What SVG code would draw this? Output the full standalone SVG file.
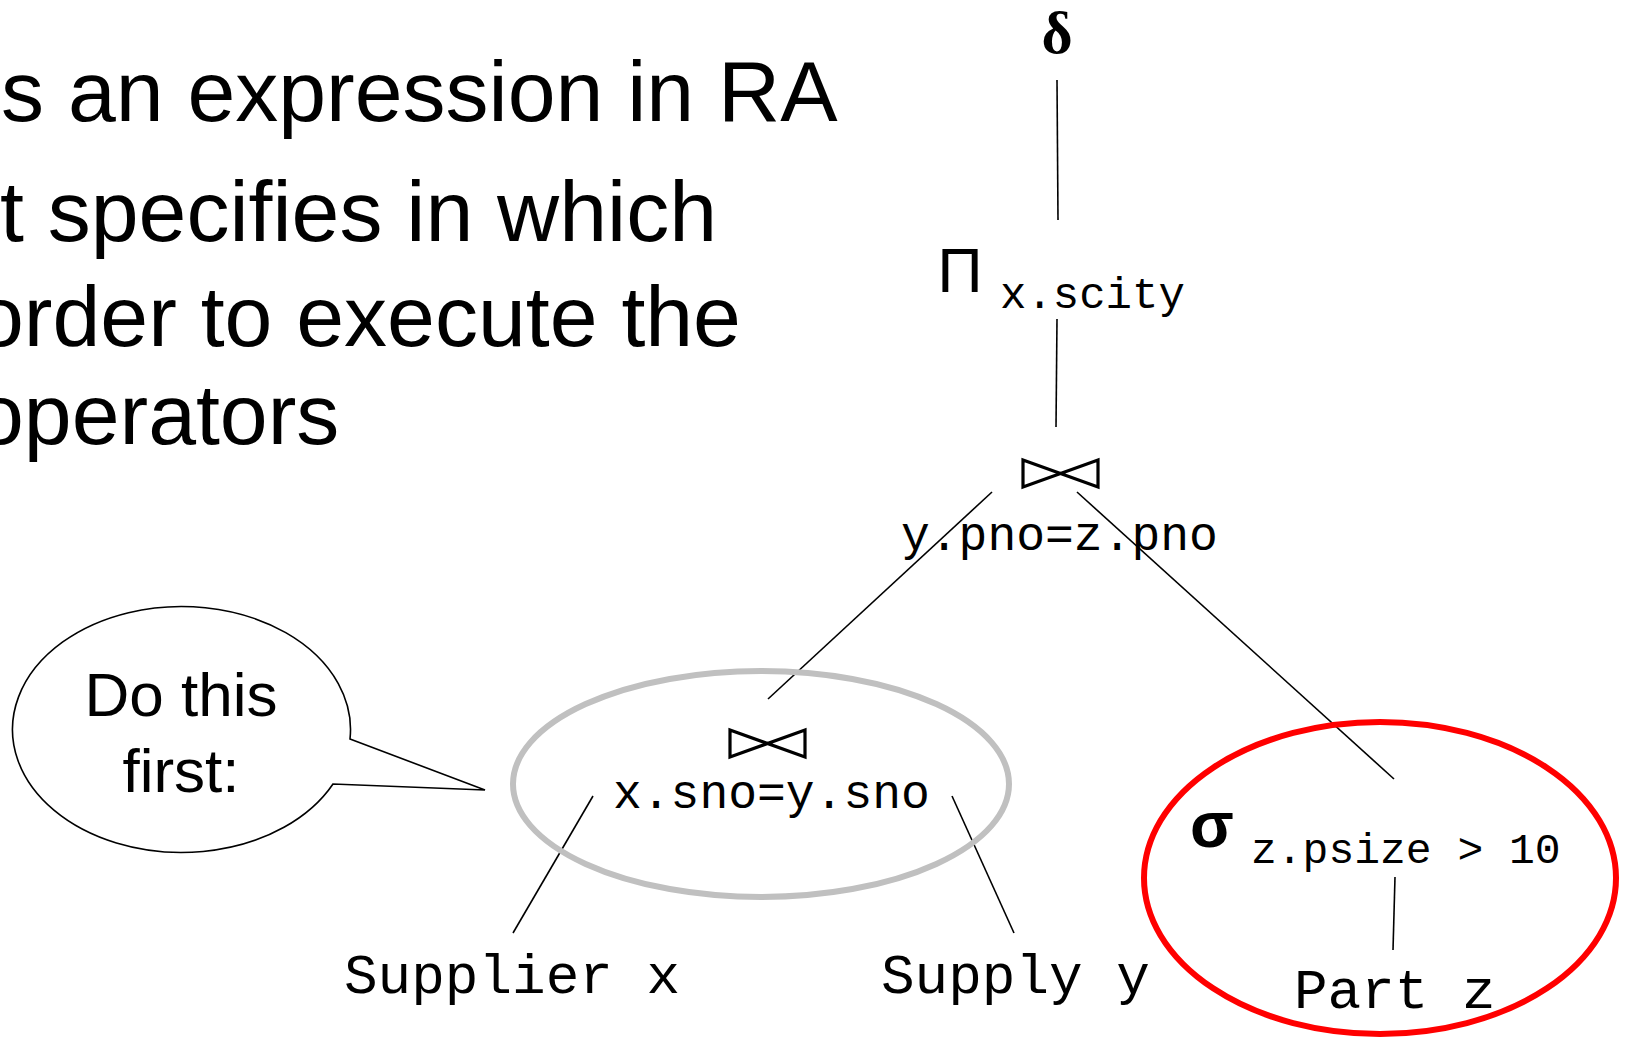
<svg xmlns="http://www.w3.org/2000/svg" width="1625" height="1037" viewBox="0 0 1625 1037">
<style>
.body{font-family:"Liberation Sans",Arial,sans-serif;font-size:86px;fill:#000}
.mono{font-family:"Liberation Mono","Courier New",monospace;fill:#000}
.sym{font-family:"Liberation Sans",Arial,sans-serif;fill:#000}
.edge{stroke:#000;stroke-width:1.6;fill:none}
.bow{stroke:#000;stroke-width:3.2;fill:none;stroke-linejoin:miter}
</style>
<rect width="1625" height="1037" fill="#fff"/>
<g id="bullets">
<text class="body" x="1" y="121">s an expression in RA</text>
<text class="body" x="0" y="241">t specifies in which</text>
<text class="body" x="-24" y="346">order to execute the</text>
<text class="body" x="-24" y="444">operators</text>
</g>
<g id="connectors">
<line class="edge" x1="1057" y1="80" x2="1058" y2="220"/>
<line class="edge" x1="1057" y1="319" x2="1056" y2="427"/>
<line class="edge" x1="992" y1="492" x2="768" y2="699"/>
<line class="edge" x1="1077" y1="492" x2="1394" y2="779"/>
<line class="edge" x1="1395" y1="877" x2="1393" y2="950"/>
<line class="edge" x1="593" y1="796" x2="513" y2="933"/>
<line class="edge" x1="952" y1="796" x2="1014" y2="933"/>
</g>
<g id="dedup">
<text x="1057" y="53" text-anchor="middle" font-family="'Liberation Serif','Times New Roman',serif" font-weight="bold" font-size="60">δ</text>
</g>
<g id="project">
<text class="sym" x="960" y="292" text-anchor="middle" font-size="63">Π</text>
<text class="mono" x="1000" y="308" font-size="44">x.scity</text>
</g>
<g id="join-top">
<path class="bow" d="M1023,460 L1098,487 L1098,460 L1023,487 Z"/>
<text class="mono" x="901" y="550" font-size="48">y.pno=z.pno</text>
</g>
<g id="join-bottom">
<ellipse cx="761" cy="784" rx="248" ry="113" fill="none" stroke="#c0c0c0" stroke-width="6"/>
<path class="bow" d="M730,730 L805,757 L805,730 L730,757 Z"/>
<text class="mono" x="613" y="808" font-size="48">x.sno=y.sno</text>
</g>
<g id="select">
<ellipse cx="1380" cy="878" rx="236" ry="156" fill="none" stroke="#ff0000" stroke-width="6"/>
<text class="sym" x="1212" y="847" text-anchor="middle" font-size="64" font-weight="bold">σ</text>
<text class="mono" x="1251" y="863" font-size="43">z.psize &gt; 10</text>
</g>
<g id="supplier">
<text class="mono" x="344" y="993" font-size="56">Supplier x</text>
</g>
<g id="supply">
<text class="mono" x="881" y="993" font-size="56">Supply y</text>
</g>
<g id="part">
<text class="mono" x="1294" y="1008" font-size="56">Part z</text>
</g>
<g id="callout">
<path d="M350,739 L485,790 L333,784 A169,123 0 1 1 350,739 Z" fill="#fff" stroke="#000" stroke-width="1.6"/>
<text class="sym" x="181" y="716" text-anchor="middle" font-size="62">Do this</text>
<text class="sym" x="181" y="792" text-anchor="middle" font-size="62">first:</text>
</g>
</svg>
